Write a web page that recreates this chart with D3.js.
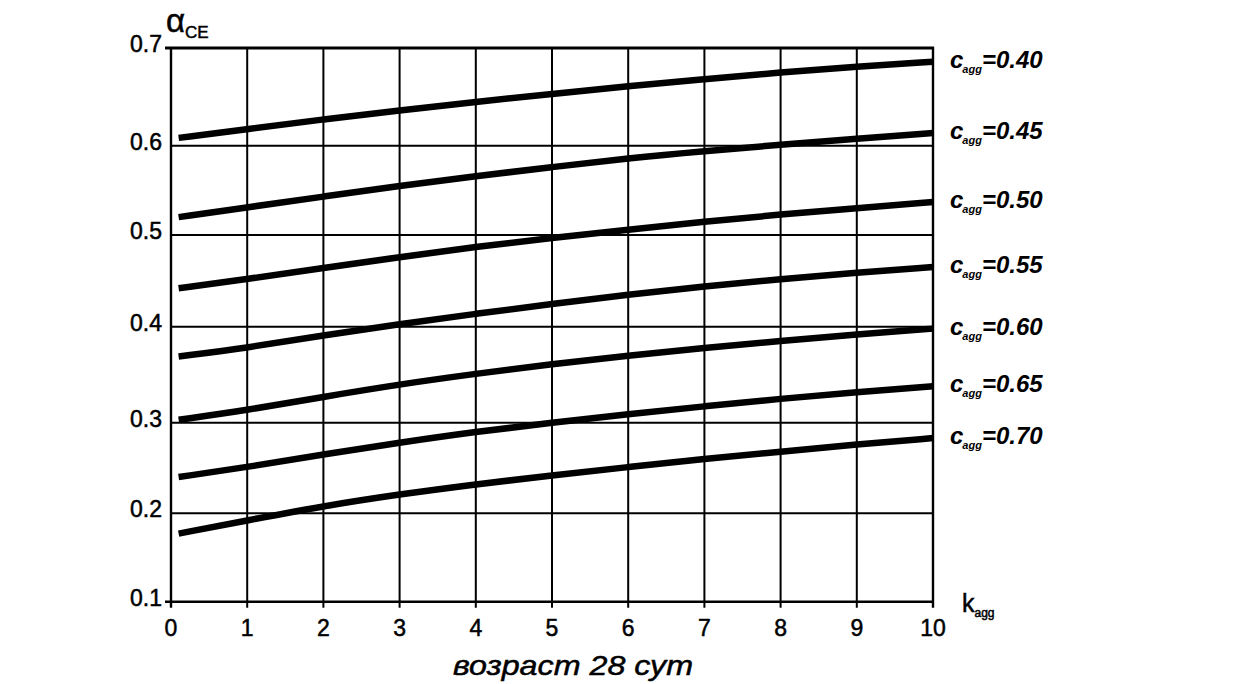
<!DOCTYPE html>
<html>
<head>
<meta charset="utf-8">
<script src="https://cdn.jsdelivr.net/npm/d3@7"></script>
<style>
  html, body { margin: 0; padding: 0; background: #fff; }
  svg { display: block; font-family: "Liberation Sans", Arial, sans-serif; }
  .lbl { stroke: #000; stroke-width: 0.5px; paint-order: stroke; }
</style>
</head>
<body>
<svg id="chart" width="1244" height="684"></svg>
<script>
// k_agg values where the curves were read
var kAgg = [0.1, 1, 2, 3, 4, 5, 6, 7, 8, 9, 10];
var cAgg = ["0.40", "0.45", "0.50", "0.55", "0.60", "0.65", "0.70"];
// alpha_CE, one array per c_agg
var a040 = [0.608, 0.617, 0.627, 0.636, 0.645, 0.653, 0.661, 0.668, 0.675, 0.681, 0.686];
var a045 = [0.520, 0.531, 0.543, 0.555, 0.566, 0.576, 0.586, 0.594, 0.601, 0.607, 0.613];
var a050 = [0.442, 0.452, 0.464, 0.476, 0.487, 0.497, 0.506, 0.515, 0.523, 0.530, 0.537];
var a055 = [0.369, 0.378, 0.391, 0.403, 0.414, 0.425, 0.435, 0.444, 0.452, 0.459, 0.465];
var a060 = [0.303, 0.313, 0.327, 0.340, 0.351, 0.361, 0.370, 0.378, 0.385, 0.392, 0.398];
var a065 = [0.240, 0.251, 0.265, 0.278, 0.290, 0.300, 0.309, 0.317, 0.325, 0.332, 0.338];
var a070 = [0.177, 0.192, 0.208, 0.221, 0.232, 0.242, 0.251, 0.260, 0.268, 0.276, 0.283];
var series = [a040, a045, a050, a055, a060, a065, a070];
var xTicks = [0, 1, 2, 3, 4, 5, 6, 7, 8, 9, 10];
var yTicks = [0.1, 0.2, 0.3, 0.4, 0.5, 0.6, 0.7];
var yTickLabels = ["0.1", "0.2", "0.3", "0.4", "0.5", "0.6", "0.7"];

var svg = d3.select("#chart");

var x = d3.scaleLinear().domain([0, 10]).range([171, 933]);
// the scanned grid is not quite even, so the y scale follows the printed gridlines
var y = d3.scaleLinear().domain(yTicks).range([601.7, 513.3, 422.7, 326.7, 235, 145.7, 48]);

var grid = svg.append("g").attr("stroke", "#000").attr("fill", "none");

// vertical gridlines + ticks below the bottom line
grid.selectAll("line.v").data(xTicks).enter().append("line")
    .attr("class", "v")
    .attr("x1", function (d) { return x(d); })
    .attr("x2", function (d) { return x(d); })
    .attr("y1", y(0.7) - 1)
    .attr("y2", y(0.1) + 6)
    .attr("stroke-width", function (d) { return d === 0 || d === 10 ? 2.4 : 2; });

// horizontal gridlines, top and bottom ones run out past the axis
grid.selectAll("line.h").data(yTicks).enter().append("line")
    .attr("class", "h")
    .attr("x1", function (d) { return d === 0.1 || d === 0.7 ? x(0) - 6 : x(0); })
    .attr("x2", x(10) + 1)
    .attr("y1", function (d) { return y(d); })
    .attr("y2", function (d) { return y(d); })
    .attr("stroke-width", function (d) { return d === 0.7 ? 2.8 : (d === 0.1 ? 2.4 : 2); });

// curves
var line = d3.line()
    .x(function (d, i) { return x(kAgg[i]); })
    .y(function (d) { return y(d); })
    .curve(d3.curveBasis);

svg.append("g").selectAll("path").data(series).enter().append("path")
    .attr("d", line)
    .attr("fill", "none")
    .attr("stroke", "#000")
    .attr("stroke-width", 6.5);

// tick labels
svg.append("g").selectAll("text").data(xTicks).enter().append("text")
    .attr("class", "lbl")
    .attr("x", function (d) { return x(d); })
    .attr("y", y(0.1) + 34)
    .attr("text-anchor", "middle")
    .attr("font-size", 23)
    .text(function (d) { return d; });

svg.append("g").selectAll("text").data(yTicks).enter().append("text")
    .attr("class", "lbl")
    .attr("x", x(0) - 9)
    .attr("y", function (d) { return y(d) - 4; })
    .attr("dy", "0.35em")
    .attr("text-anchor", "end")
    .attr("font-size", 23)
    .text(function (d, i) { return yTickLabels[i]; });

// axis names
var aLab = svg.append("text").attr("class", "lbl").attr("x", x(0) - 5).attr("y", 32);
aLab.append("tspan").attr("font-size", 33).text("α");
aLab.append("tspan").attr("font-size", 17).attr("dy", 6).text("CE");

var kLab = svg.append("text").attr("class", "lbl").attr("x", x(10) + 29).attr("y", y(0.1) + 10);
kLab.append("tspan").attr("font-size", 25).text("k");
kLab.append("tspan").attr("font-size", 12).attr("dy", 5).text("agg");

// curve labels at the right end
var labs = svg.append("g").selectAll("text").data(series).enter().append("text")
    .attr("x", x(10) + 17)
    .attr("y", function (d) { return y(d[d.length - 1]) + 6; })
    .attr("font-weight", "bold")
    .attr("font-style", "italic");
labs.append("tspan").attr("font-size", 24).text("c");
labs.append("tspan").attr("font-size", 11).attr("dy", 5).attr("dx", -1).text("agg");
labs.append("tspan").attr("font-size", 24).attr("dy", -5)
    .text(function (d, i) { return "=" + cAgg[i]; });

// bottom caption
svg.append("text")
    .attr("class", "lbl")
    .attr("x", 453).attr("y", 675)
    .attr("font-size", 28)
    .attr("font-style", "italic")
    .attr("textLength", 240)
    .attr("lengthAdjust", "spacingAndGlyphs")
    .text("возраст 28 сут");
</script>
</body>
</html>
